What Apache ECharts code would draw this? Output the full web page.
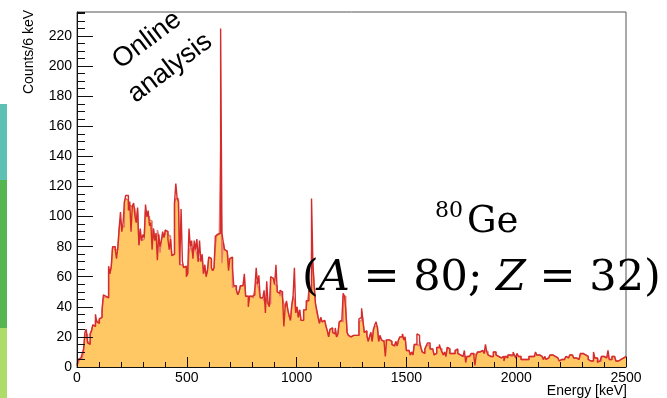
<!DOCTYPE html>
<html><head><meta charset="utf-8">
<script src="https://cdn.jsdelivr.net/npm/echarts@6/dist/echarts.min.js"></script>
<style>html,body{margin:0;padding:0;background:#fff;}#c{width:667px;height:398px;}</style>
</head><body><div id="c"></div>
<script>
// Histogram: 6 keV bins starting at 0 keV
const binWidthKeV = 6;
const xAxisMax = 2500;
const yAxisMax = 236;

// orange filled histogram (counts per 6 keV bin)
const fillCounts = [
1,3,5,6,7,10,21,22,17,16,
22,24,28,27,31,30,29,32,33,37,
46,47,46,46,65,62,66,79,80,78,
78,77,92,98,94,93,110,112,111,108,
107,108,107,106,105,96,104,81,89,84,
85,86,104,100,100,98,97,84,92,87,
87,91,88,76,84,87,88,91,90,88,
87,85,74,75,109,112,112,110,68,68,
67,66,67,64,62,76,80,78,75,80,
78,75,70,72,72,73,62,66,61,64,
73,72,66,64,66,80,88,89,88,144,
69,83,78,77,78,70,72,73,53,54,
54,51,48,50,54,54,55,60,47,47,
47,47,47,46,48,52,57,55,52,46,
46,45,44,42,46,42,42,60,59,58,
55,54,50,49,47,50,46,42,40,43,
38,34,31,41,47,44,36,40,33,38,
31,31,38,38,40,44,51,50,76,67,
54,42,36,33,29,33,30,31,31,27,
24,20,25,26,23,22,25,20,22,29,
31,30,47,47,38,23,21,20,19,21,
22,21,22,21,30,31,37,31,23,24,
21,17,20,23,17,25,27,27,26,17,
21,18,17,17,18,18,18,17,17,15,
14,13,17,14,18,20,20,22,18,20,
11,11,10,8,10,8,15,15,16,14,
17,13,10,9,12,14,15,15,12,12,
11,8,9,13,13,12,12,10,8,10,
7,13,12,9,9,10,9,11,11,9,
8,9,7,8,7,7,7,7,8,9,
9,8,8,8,10,10,10,11,10,9,
11,10,8,7,8,7,10,10,8,7,
8,6,7,7,6,7,6,8,8,7,
8,8,8,6,9,7,7,5,5,6,
5,6,5,7,7,7,7,6,8,8,
8,8,7,6,5,7,5,6,5,8,
8,7,7,6,6,5,4,5,4,5,
6,7,6,7,8,8,8,6,6,5,
5,5,8,9,9,8,7,7,5,4,
5,4,8,6,6,5,4,4,7,7,
7,6,6,8,5,5,7,7,6,4,
4,4,5,6,6,6,7
];

// red line histogram (counts per 6 keV bin)
const lineCounts = [
1,5,6,6,9,12,23,25,16,15,
22,24,28,27,35,30,29,32,33,38,
48,47,46,46,67,62,67,80,80,78,
72,80,92,103,90,96,110,114,114,104,
110,90,107,109,100,96,106,81,92,84,
88,86,108,100,104,94,96,78,92,84,
89,71,88,80,84,90,86,91,90,85,
78,85,74,75,109,122,112,110,68,105,
70,66,67,60,62,92,80,84,72,84,
78,85,70,84,70,75,62,68,60,64,
73,72,66,64,66,87,88,89,89,225,
89,83,78,77,78,64,72,73,66,54,
54,51,48,50,54,54,55,62,47,47,
40,47,47,46,48,52,66,55,61,46,
46,45,51,36,57,42,40,60,59,58,
55,68,50,49,51,50,46,27,40,44,
38,34,31,41,47,66,36,40,33,38,
31,31,38,38,44,44,51,50,112,70,
54,42,38,33,29,33,30,31,31,27,
24,20,25,26,23,22,26,20,22,30,
31,30,49,47,38,23,21,20,19,21,
22,21,22,21,32,33,39,31,23,24,
21,17,20,23,17,25,28,30,26,17,
21,18,17,17,7,18,18,17,17,15,
14,13,17,14,18,20,20,22,18,20,
11,11,10,8,10,8,15,15,22,21,
17,13,10,9,12,14,16,16,12,12,
11,8,9,13,13,15,12,10,8,10,
7,13,12,9,9,10,9,11,12,9,
8,9,7,8,11,3,7,7,8,9,
9,8,1,8,10,10,11,11,10,9,
15,10,8,7,8,7,10,10,8,7,
8,6,7,7,4,7,6,8,8,7,
8,10,8,6,9,7,7,5,5,6,
5,6,5,7,7,7,7,6,10,8,
8,8,7,6,5,7,5,6,5,8,
8,7,7,6,6,5,4,5,4,5,
6,7,6,7,8,8,8,6,6,5,
5,5,9,9,9,8,7,7,5,4,
5,4,10,6,6,3,4,4,7,7,
7,6,6,11,5,5,7,7,6,4,
4,4,5,6,6,6,7
];

function toSteps(counts) {
  const pts = counts.map((v, i) => [i * binWidthKeV, v]);
  pts.push([counts.length * binWidthKeV, counts[counts.length - 1]]);
  return pts;
}

const chart = echarts.init(document.getElementById('c'), null, {renderer: 'canvas'});
const axisColor = '#111';
const labelFont = 'Liberation Sans';

chart.setOption({
  animation: false,
  backgroundColor: '#fff',
  grid: {left: 77, right: 41, top: 12, bottom: 31, show: true, borderColor: '#555', borderWidth: 1, backgroundColor: 'transparent'},
  xAxis: {
    type: 'value', min: 0, max: xAxisMax, interval: 500, z: 10,
    axisLine: {show: true, onZero: false, lineStyle: {color: axisColor, width: 1}},
    axisTick: {show: true, inside: true, length: 10, lineStyle: {color: axisColor}},
    minorTick: {show: true, splitNumber: 5, length: 5, lineStyle: {color: axisColor}},
    axisLabel: {fontSize: 14, color: '#000', fontFamily: labelFont, margin: 4, formatter: (v) => String(v)},
    splitLine: {show: false}, minorSplitLine: {show: false}
  },
  yAxis: [
    {
      type: 'value', min: 0, max: yAxisMax, interval: 20, position: 'left', z: 10,
      axisLine: {show: true, onZero: false, lineStyle: {color: axisColor, width: 1}},
      axisTick: {show: true, inside: true, length: 16, lineStyle: {color: axisColor}},
      axisLabel: {fontSize: 14, color: '#000', fontFamily: labelFont, margin: 5, showMaxLabel: false, formatter: (v) => String(v)},
      splitLine: {show: false}
    },
    {
      type: 'value', min: 0, max: yAxisMax, interval: 5, position: 'left', offset: 0, z: 10,
      axisLine: {show: false},
      axisTick: {show: true, inside: true, length: 8, lineStyle: {color: axisColor}},
      axisLabel: {show: false},
      splitLine: {show: false}
    }
  ],
  series: [
    {
      type: 'line', data: toSteps(fillCounts), step: 'end', symbol: 'none', yAxisIndex: 0,
      lineStyle: {color: 'rgba(228,100,100,0.85)', width: 1.4},
      areaStyle: {color: '#FFC864', opacity: 1}, z: 2, silent: true
    },
    {
      type: 'line', data: toSteps(lineCounts), step: 'end', symbol: 'none', yAxisIndex: 0,
      lineStyle: {color: '#D52B2B', width: 1.4}, z: 3, silent: true
    }
  ],
  graphic: [
    {type: 'rect', shape: {x: 0, y: 104, width: 7, height: 76}, style: {fill: '#5EBFB4'}, z: 1},
    {type: 'rect', shape: {x: 0, y: 180, width: 7, height: 148}, style: {fill: '#55B54F'}, z: 1},
    {type: 'rect', shape: {x: 0, y: 328, width: 7, height: 70}, style: {fill: '#ADDC68'}, z: 1},
    {type: 'text', x: 29, y: 10, rotation: Math.PI / 2, z: 100,
      style: {text: 'Counts/6 keV', font: '14px "Liberation Sans"', fill: '#000', align: 'right', verticalAlign: 'middle', textAlign: 'right', textVerticalAlign: 'middle'}},
    {type: 'text', x: 627, y: 391, z: 100,
      style: {text: 'Energy [keV]', font: '14px "Liberation Sans"', fill: '#000', align: 'right', verticalAlign: 'middle', textAlign: 'right', textVerticalAlign: 'middle'}},
    {type: 'text', x: 147, y: 40, rotation: 37 * Math.PI / 180, z: 100,
      style: {text: 'Online', font: '27px "Liberation Sans"', fill: '#000', align: 'center', verticalAlign: 'middle', textAlign: 'center', textVerticalAlign: 'middle'}},
    {type: 'text', x: 170, y: 68, rotation: 37 * Math.PI / 180, z: 100,
      style: {text: 'analysis', font: '27px "Liberation Sans"', fill: '#000', align: 'center', verticalAlign: 'middle', textAlign: 'center', textVerticalAlign: 'middle'}},
    {type: 'text', x: 435, y: 211, z: 100,
      style: {text: '80', font: '22px "DejaVu Serif"', fill: '#000', align: 'left', verticalAlign: 'middle', textAlign: 'left', textVerticalAlign: 'middle'}},
    {type: 'text', x: 467, y: 222, z: 100,
      style: {text: 'Ge', font: '37px "DejaVu Serif"', fill: '#000', align: 'left', verticalAlign: 'middle', textAlign: 'left', textVerticalAlign: 'middle'}},
    {type: 'text', x: 302, y: 279, z: 100,
      style: {text: '({i|A} = 80; {i|Z} = 32)', font: '43px "DejaVu Serif"', fill: '#000', align: 'left', verticalAlign: 'middle', textAlign: 'left', textVerticalAlign: 'middle',
        rich: {i: {fontStyle: 'italic', fontFamily: 'DejaVu Serif', fontSize: 43, fill: '#000'}}}}
  ]
});
</script>
</body></html>
